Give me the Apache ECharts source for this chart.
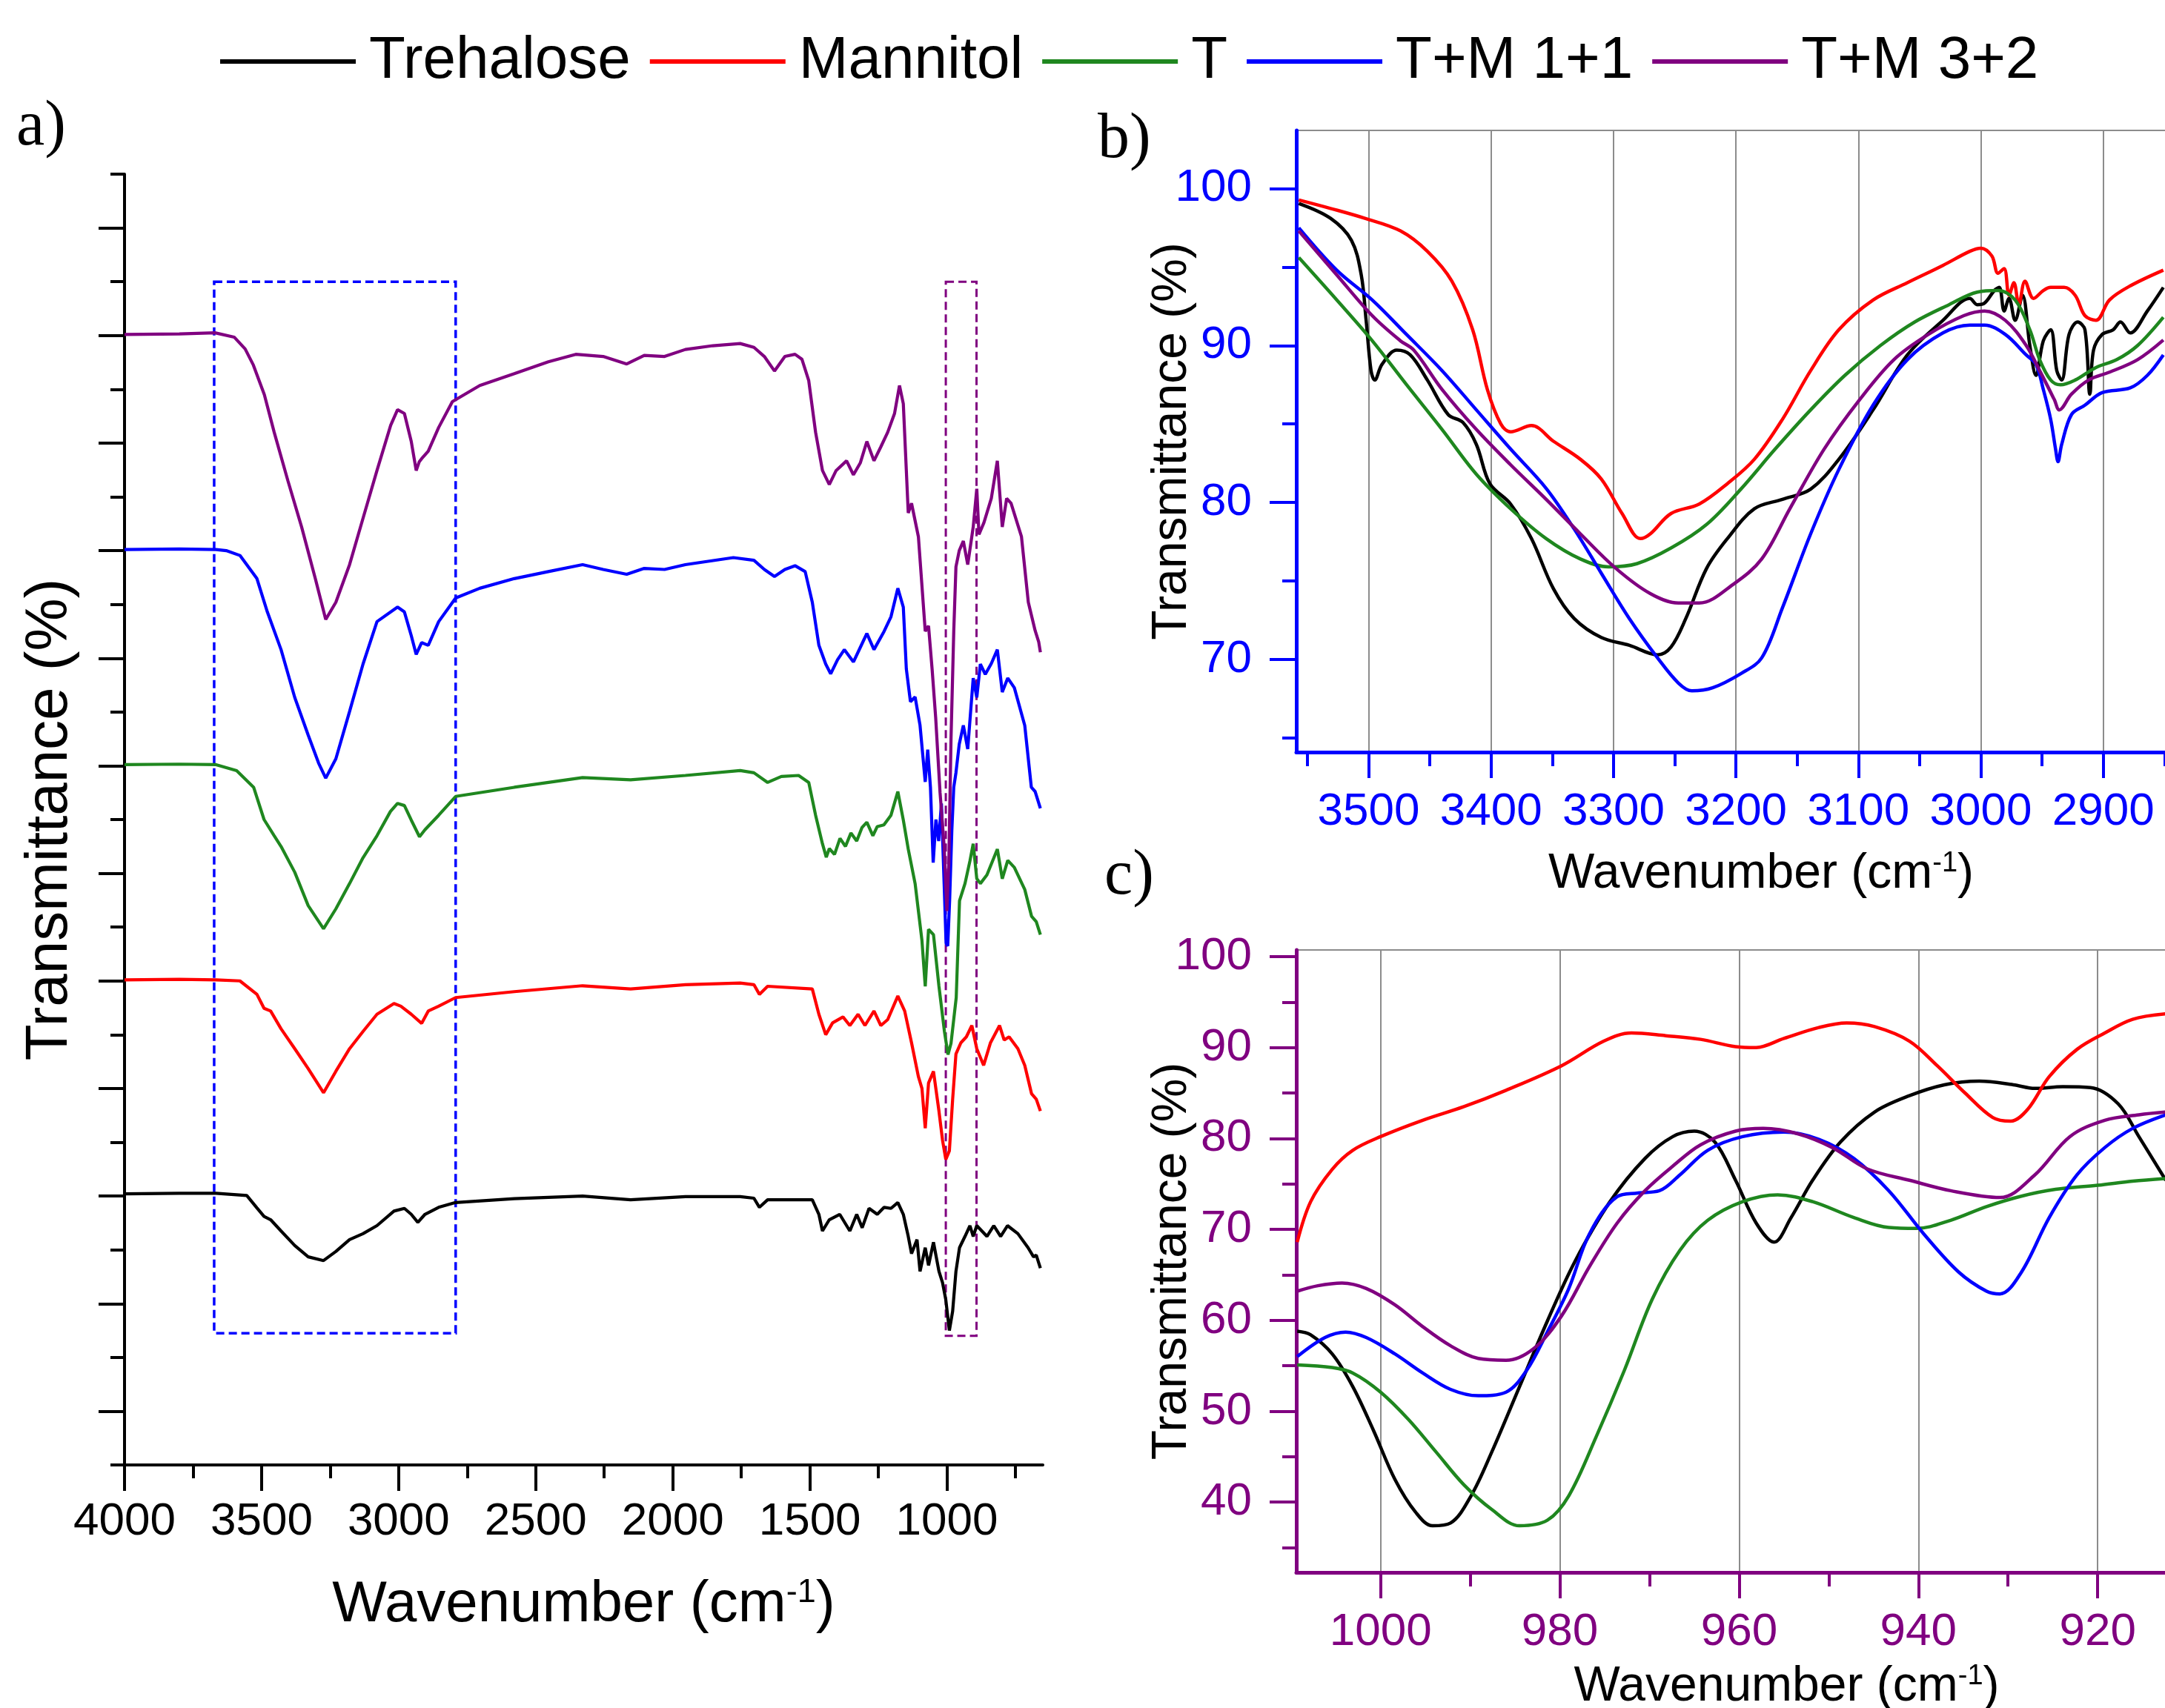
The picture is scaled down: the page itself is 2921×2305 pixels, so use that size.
<!DOCTYPE html>
<html><head><meta charset="utf-8">
<script src="https://cdn.jsdelivr.net/npm/echarts@6/dist/echarts.min.js"></script>
<style>html,body{margin:0;padding:0;background:#fff}#c{width:2921px;height:2305px}</style>
</head><body><div id="c"></div>
<script>
// ---------- names & tick values ----------
const seriesNames = ['Trehalose','Mannitol','T','T+M 1+1','T+M 3+2'];
const seriesColors = ['#000000','#ff0000','#1f871f','#0000ff','#800080'];

const a_x_major = [4000,3500,3000,2500,2000,1500,1000];
const a_x_minor = [3750,3250,2750,2250,1750,1250,750];
const a_y_short = [0,2,4,6,8,10,12,14,16,18,20,22,24];
const a_y_long  = [1,3,5,7,9,11,13,15,17,19,21,23];
const b_x_major = [3500,3400,3300,3200,3100,3000,2900,2800];
const b_x_minor = [3550,3450,3350,3250,3150,3050,2950,2850];
const b_y_major = [70,80,90,100];
const b_y_minor = [65,75,85,95];
const c_x_major = [1000,980,960,940,920,900];
const c_x_minor = [990,970,950,930,910];
const c_y_major = [40,50,60,70,80,90,100];
const c_y_minor = [35,45,55,65,75,85,95];

// dashed boxes in panel a: [x1, y1, x2, y2]
const boxBlue   = [3673, 22, 2792, 2.45];
const boxPurple = [1004, 22, 892, 2.4];

// ---------- panel a (offset spectra, arbitrary units) ----------
const a_trehalose = [[4000,5.04],[3800,5.05],[3666,5.05],[3554,5.01],[3517,4.78],[3491,4.62],[3467,4.56],[3429,4.35],[3379,4.08],[3330,3.87],[3274,3.8],[3229,3.97],[3179,4.19],[3130,4.30],[3079,4.45],[3017,4.72],[2979,4.77],[2954,4.66],[2930,4.51],[2904,4.66],[2854,4.79],[2792,4.88],[2578,4.95],[2329,5.0],[2154,4.93],[1954,4.99],[1754,4.99],[1704,4.96],[1684,4.79],[1654,4.93],[1491,4.93],[1467,4.66],[1454,4.35],[1429,4.56],[1391,4.66],[1354,4.35],[1329,4.66],[1309,4.41],[1284,4.77],[1254,4.66],[1229,4.79],[1204,4.77],[1179,4.88],[1159,4.66],[1141,4.25],[1129,3.93],[1109,4.19],[1098,3.60],[1079,4.04],[1067,3.71],[1049,4.14],[1029,3.6],[1016,3.39],[1004,3.07],[991,2.5],[979,2.86],[967,3.6],[954,4.04],[934,4.25],[916,4.45],[904,4.25],[891,4.45],[854,4.25],[829,4.45],[804,4.25],[779,4.45],[741,4.3],[704,4.04],[684,3.87],[674,3.9],[659,3.66]];
const a_mannitol = [[4000,9.02],[3800,9.03],[3666,9.02],[3579,9.0],[3517,8.75],[3491,8.49],[3467,8.44],[3429,8.11],[3379,7.74],[3330,7.37],[3274,6.92],[3229,7.32],[3179,7.74],[3130,8.06],[3079,8.38],[3017,8.58],[2992,8.53],[2954,8.38],[2916,8.21],[2892,8.44],[2854,8.53],[2792,8.69],[2578,8.8],[2329,8.91],[2154,8.85],[1954,8.93],[1754,8.96],[1704,8.93],[1684,8.75],[1654,8.9],[1491,8.85],[1467,8.38],[1442,8.0],[1417,8.22],[1379,8.33],[1354,8.17],[1324,8.38],[1299,8.17],[1266,8.44],[1241,8.17],[1216,8.28],[1179,8.72],[1154,8.44],[1129,7.85],[1104,7.22],[1091,7.0],[1079,6.26],[1067,7.1],[1049,7.32],[1029,6.58],[1016,6.04],[1004,5.68],[991,5.84],[979,6.8],[967,7.64],[949,7.85],[929,7.96],[909,8.17],[891,7.74],[866,7.43],[841,7.85],[808,8.17],[791,7.9],[773,7.96],[741,7.74],[716,7.43],[691,6.9],[674,6.8],[659,6.58]];
const a_t = [[4000,13.02],[3800,13.03],[3666,13.02],[3591,12.91],[3529,12.6],[3491,12.0],[3454,11.7],[3429,11.5],[3379,11.02],[3330,10.4],[3274,9.97],[3229,10.34],[3179,10.81],[3130,11.29],[3079,11.7],[3030,12.15],[3004,12.3],[2979,12.26],[2954,11.99],[2924,11.68],[2904,11.81],[2854,12.08],[2792,12.43],[2578,12.6],[2329,12.78],[2154,12.74],[1954,12.82],[1754,12.91],[1704,12.87],[1654,12.69],[1604,12.8],[1541,12.82],[1504,12.69],[1479,12.08],[1454,11.55],[1440,11.3],[1429,11.46],[1410,11.35],[1390,11.65],[1370,11.5],[1350,11.75],[1329,11.6],[1310,11.85],[1292,11.95],[1270,11.7],[1254,11.87],[1230,11.9],[1204,12.08],[1179,12.52],[1159,11.99],[1141,11.45],[1116,10.81],[1091,9.75],[1079,8.90],[1067,9.96],[1049,9.86],[1029,8.90],[1009,8.06],[996,7.63],[985,7.84],[966,8.69],[954,10.49],[934,10.81],[916,11.23],[904,11.55],[891,10.9],[878,10.81],[854,10.97],[816,11.45],[798,10.9],[778,11.24],[754,11.11],[716,10.7],[691,10.2],[674,10.1],[659,9.86]];
const a_tm11 = [[4000,17.02],[3800,17.03],[3666,17.02],[3629,17.0],[3579,16.91],[3517,16.48],[3479,15.86],[3429,15.16],[3379,14.27],[3330,13.57],[3292,13.05],[3266,12.77],[3229,13.13],[3179,14.01],[3130,14.89],[3079,15.68],[3004,15.95],[2979,15.86],[2954,15.42],[2936,15.07],[2916,15.29],[2892,15.24],[2854,15.68],[2792,16.12],[2704,16.3],[2578,16.48],[2454,16.61],[2329,16.74],[2254,16.65],[2168,16.56],[2104,16.67],[2030,16.65],[1954,16.74],[1779,16.87],[1704,16.82],[1666,16.65],[1629,16.52],[1591,16.65],[1554,16.72],[1517,16.61],[1491,16.04],[1467,15.24],[1442,14.89],[1424,14.71],[1399,14.97],[1374,15.16],[1341,14.93],[1316,15.2],[1292,15.46],[1266,15.16],[1229,15.5],[1204,15.77],[1179,16.3],[1159,15.95],[1148,14.8],[1133,14.19],[1116,14.28],[1098,13.75],[1079,12.70],[1070,13.3],[1060,12.6],[1050,11.2],[1040,12.0],[1030,11.6],[1020,12.3],[1010,10.8],[1003,9.7],[997,9.65],[990,10.5],[982,11.8],[975,12.6],[967,12.87],[955,13.4],[940,13.75],[924,13.31],[904,14.63],[891,14.27],[878,14.89],[860,14.7],[838,14.9],[816,15.16],[798,14.37],[778,14.63],[754,14.45],[716,13.75],[692,12.6],[678,12.52],[659,12.21]];
const a_tm32 = [[4000,21.02],[3800,21.03],[3670,21.05],[3600,20.97],[3560,20.75],[3530,20.45],[3490,19.9],[3454,19.2],[3404,18.3],[3354,17.44],[3304,16.48],[3266,15.72],[3229,16.04],[3179,16.74],[3130,17.6],[3079,18.49],[3029,19.33],[3004,19.62],[2979,19.55],[2954,19.03],[2936,18.49],[2925,18.65],[2916,18.71],[2892,18.85],[2854,19.29],[2804,19.77],[2704,20.07],[2578,20.29],[2454,20.51],[2354,20.65],[2254,20.61],[2168,20.47],[2104,20.63],[2030,20.61],[1954,20.74],[1854,20.81],[1754,20.85],[1704,20.78],[1666,20.61],[1629,20.34],[1591,20.61],[1554,20.65],[1529,20.56],[1504,20.16],[1479,19.2],[1454,18.49],[1429,18.23],[1404,18.49],[1366,18.67],[1341,18.41],[1316,18.63],[1292,19.03],[1266,18.67],[1241,18.93],[1216,19.2],[1191,19.55],[1173,20.07],[1159,19.73],[1148,18.49],[1141,17.7],[1129,17.88],[1104,17.26],[1079,15.5],[1067,15.6],[1054,14.8],[1041,13.9],[1025,12.5],[1010,11.5],[1000,10.3],[993,11.2],[985,13.5],[975,15.5],[967,16.7],[955,17.0],[940,17.18],[924,16.74],[904,17.44],[891,18.15],[883,17.3],[865,17.52],[838,17.97],[816,18.67],[798,17.44],[782,17.97],[766,17.88],[728,17.26],[703,16.04],[678,15.51],[665,15.3],[659,15.11]];

// ---------- panel b (3560-2850 cm-1, %T) ----------
const b_trehalose = [[3557,99.05],[3531,98.1],[3514,96.7],[3506,94.5],[3502,91.6],[3498,88.4],[3495,87.8],[3489,88.8],[3477,89.7],[3466,89.4],[3452,87.8],[3435,85.6],[3423,85.1],[3412,83.7],[3401,81.2],[3384,79.9],[3367,77.7],[3349,74.5],[3332,72.6],[3310,71.4],[3287,70.9],[3264,70.3],[3253,70.8],[3241,72.6],[3224,75.8],[3207,77.7],[3185,79.6],[3162,80.2],[3139,80.85],[3116,82.75],[3088,85.9],[3060,89.4],[3031,91.6],[3009,93.0],[3003,92.6],[2997,92.7],[2989,93.5],[2985,93.7],[2981,92.2],[2977,93.0],[2972,91.6],[2966,93.2],[2960,90.0],[2955,88.1],[2949,90.3],[2943,91.0],[2938,88.4],[2934,87.8],[2928,90.7],[2921,91.5],[2915,91.0],[2911,86.9],[2908,89.7],[2901,90.7],[2892,91.0],[2886,91.5],[2878,90.8],[2864,92.2],[2851,93.7]];
const b_mannitol = [[3557,99.27],[3531,98.73],[3503,98.1],[3474,97.3],[3452,96.0],[3432,94.1],[3415,91.0],[3403,87.2],[3392,85.0],[3384,84.5],[3367,84.9],[3349,83.9],[3327,82.75],[3310,81.5],[3293,79.3],[3278,77.7],[3270,78.0],[3253,79.3],[3230,79.9],[3207,81.2],[3185,82.75],[3162,85.3],[3139,88.4],[3116,91.0],[3088,92.9],[3060,94.0],[3031,95.1],[3009,96.0],[3000,96.2],[2991,95.7],[2986,94.6],[2981,94.9],[2977,93.2],[2973,94.0],[2969,92.6],[2964,94.1],[2957,93.0],[2949,93.5],[2943,93.7],[2932,93.7],[2923,93.2],[2915,91.9],[2906,91.6],[2895,92.9],[2878,93.8],[2851,94.8]];
const b_t = [[3557,95.6],[3526,92.9],[3497,90.3],[3469,87.5],[3440,84.65],[3412,81.8],[3384,79.6],[3355,77.7],[3327,76.4],[3304,75.9],[3281,76.1],[3253,77.1],[3224,78.6],[3196,80.85],[3168,83.4],[3139,85.9],[3111,88.1],[3082,90.0],[3054,91.5],[3026,92.6],[3003,93.4],[2986,93.5],[2972,92.9],[2960,91.0],[2952,89.1],[2943,87.8],[2935,87.5],[2923,87.8],[2906,88.6],[2889,89.1],[2872,90.0],[2851,91.8]];
const b_tm11 = [[3557,97.5],[3526,94.8],[3497,92.9],[3469,90.7],[3440,88.4],[3412,85.9],[3384,83.4],[3355,80.9],[3332,78.3],[3310,75.5],[3287,72.6],[3264,70.1],[3247,68.5],[3236,68.0],[3219,68.2],[3196,69.1],[3179,70.1],[3162,73.3],[3139,78.0],[3116,82.1],[3088,86.2],[3060,89.1],[3031,90.8],[3009,91.3],[2997,91.3],[2980,90.7],[2963,89.4],[2955,88.8],[2949,87.2],[2943,85.3],[2939,83.4],[2937,82.6],[2934,83.7],[2926,85.6],[2915,86.2],[2901,87.0],[2878,87.3],[2864,88.1],[2851,89.4]];
const b_tm32 = [[3557,97.3],[3526,94.5],[3497,91.9],[3474,90.3],[3463,89.7],[3440,87.2],[3412,84.65],[3384,82.4],[3355,80.2],[3327,78.0],[3298,75.8],[3270,74.2],[3247,73.6],[3230,73.6],[3202,74.8],[3179,76.4],[3156,79.6],[3128,83.4],[3099,86.55],[3071,89.1],[3043,90.7],[3014,91.9],[2997,92.2],[2980,91.6],[2963,90.0],[2952,88.4],[2940,86.55],[2936,85.9],[2926,86.9],[2912,87.8],[2895,88.3],[2872,89.1],[2851,90.35]];

// ---------- panel c (1010-912 cm-1, %T) ----------
const c_trehalose = [[1009.3,58.8],[1007.8,58.4],[1005.4,56.3],[1003.1,52.7],[1000.8,47.9],[998.4,42.5],[996.1,38.9],[994.2,37.4],[992.2,37.7],[989.9,40.7],[987.6,45.5],[984.5,52.7],[981.4,59.9],[978.3,66.5],[974.4,73.05],[970.5,77.8],[967.4,80.2],[965.0,80.8],[962.7,79.6],[960.4,75.4],[958.1,70.7],[956.1,68.6],[954.2,71.3],[951.8,75.4],[948.7,79.6],[944.9,82.9],[941.0,84.7],[937.1,85.9],[933.2,86.3],[929.4,85.9],[927.0,85.5],[923.9,85.7],[920.8,85.6],[917.7,83.8],[915.4,80.2],[912.4,75.4]];
const c_mannitol = [[1009.3,68.6],[1007.8,73.05],[1005.4,76.6],[1003.1,78.7],[1000,80.2],[995.3,82.0],[990.7,83.5],[986.0,85.3],[979.8,88.0],[975.1,90.7],[972.0,91.6],[968.2,91.3],[964.3,90.9],[960.4,90.1],[958.1,90.0],[955.0,91.0],[951.1,92.2],[948.0,92.7],[944.9,92.3],[941.0,90.7],[937.9,88.0],[934.8,85.0],[931.7,82.3],[929.7,81.9],[927.8,83.2],[925.4,86.8],[922.3,89.8],[919.2,91.6],[916.1,93.1],[912.4,93.7]];
const c_t = [[1009.3,55.1],[1005.4,54.8],[1003.1,54.2],[1000,52.1],[996.9,49.1],[993.8,45.5],[990.7,41.9],[987.6,39.2],[984.5,37.4],[981.4,38.0],[979.0,40.7],[975.9,47.3],[972.8,54.5],[969.7,62.3],[966.6,67.7],[963.5,71.0],[959.6,73.05],[955.7,73.8],[951.8,73.05],[947.2,71.3],[943.3,70.2],[940.2,70.1],[936.4,71.0],[932.4,72.5],[928.5,73.65],[924.7,74.4],[920.0,74.85],[916.1,75.3],[912.4,75.6]];
const c_tm11 = [[1009.3,56.0],[1006.2,58.1],[1003.9,58.7],[1001.6,58.1],[998.4,56.3],[995.3,54.2],[992.2,52.4],[989.1,51.7],[986.0,52.1],[983.7,54.5],[981.4,58.7],[979.0,63.5],[976.7,69.5],[973.6,73.6],[971.3,74.0],[968.9,74.25],[966.6,76.0],[963.5,78.7],[959.6,80.2],[955.0,80.7],[951.1,79.9],[947.2,77.8],[943.3,74.25],[939.4,69.5],[935.5,65.3],[932.4,63.2],[930.9,62.9],[928.5,65.3],[925.4,71.3],[922.3,76.0],[919.2,79.0],[916.1,81.1],[912.4,82.6]];
const c_tm32 = [[1009.3,63.2],[1007.0,63.8],[1004.3,64.1],[1001.6,63.5],[998.4,61.7],[995.3,59.3],[992.2,57.2],[989.1,55.8],[986.0,55.6],[982.9,56.9],[979.8,60.5],[976.7,65.9],[973.6,70.7],[970.5,74.25],[967.4,76.95],[964.3,79.3],[960.4,80.8],[957.3,81.1],[953.4,80.5],[949.6,79.0],[945.7,76.65],[941.0,75.4],[936.4,74.25],[930.9,73.5],[927.0,76.0],[923.1,80.2],[919.2,82.0],[915.4,82.6],[912.4,82.9]];

const panelA = [a_trehalose, a_mannitol, a_t, a_tm11, a_tm32];
const panelB = [b_trehalose, b_mannitol, b_t, b_tm11, b_tm32];
const panelC = [c_trehalose, c_mannitol, c_t, c_tm11, c_tm32];

// ---------- layout ----------
const FONT = '"Liberation Sans", Arial, sans-serif';
const BLUE = '#0000ff', PURPLE = '#800080', GRAY = '#8c8c8c';
const plain = (v) => String(v);

function tickAxis(o) {
  return Object.assign({
    type: 'value', scale: false, nameMoveOverlap: false,
    axisLine: { show: false, onZero: false },
    axisTick: { show: false },
    axisLabel: { show: false },
    splitLine: { show: false },
    minorTick: { show: false }, minorSplitLine: { show: false }
  }, o);
}
const rich = (fs) => ({ s: { fontSize: Math.round(fs * 0.58), fontFamily: FONT, color: '#000', verticalAlign: 'top' } });

const xAxes = [
  // panel a
  tickAxis({ gridIndex: 0, position: 'bottom', min: 650, max: 4000, inverse: true,
    axisLine: { show: true, onZero: false, lineStyle: { color: '#000', width: 4 } },
    axisTick: { show: true, length: 35, customValues: a_x_major, lineStyle: { color: '#000', width: 4 } },
    axisLabel: { show: true, customValues: a_x_major, formatter: plain, fontSize: 62, fontFamily: FONT, color: '#000', margin: 46 },
    name: 'Wavenumber (cm{s|-1})', nameLocation: 'middle', nameGap: 150,
    nameTextStyle: { fontSize: 78, fontFamily: FONT, color: '#000', rich: rich(78) } }),
  tickAxis({ gridIndex: 0, position: 'bottom', min: 650, max: 4000, inverse: true,
    axisTick: { show: true, length: 18, customValues: a_x_minor, lineStyle: { color: '#000', width: 4 } } }),
  // panel b
  tickAxis({ gridIndex: 1, position: 'bottom', min: 2800, max: 3559, inverse: true, interval: 100,
    axisLine: { show: true, onZero: false, lineStyle: { color: BLUE, width: 5 } },
    axisTick: { show: true, length: 35, customValues: b_x_major, lineStyle: { color: BLUE, width: 4 } },
    axisLabel: { show: true, customValues: b_x_major, formatter: plain, fontSize: 62, fontFamily: FONT, color: BLUE, margin: 50 },
    splitLine: { show: true, lineStyle: { color: GRAY, width: 2 } },
    name: 'Wavenumber (cm{s|-1})', nameLocation: 'middle', nameGap: 132,
    nameTextStyle: { fontSize: 66, fontFamily: FONT, color: '#000', rich: rich(66) } }),
  tickAxis({ gridIndex: 1, position: 'bottom', min: 2800, max: 3559, inverse: true,
    axisTick: { show: true, length: 19, customValues: b_x_minor, lineStyle: { color: BLUE, width: 4 } } }),
  // panel c
  tickAxis({ gridIndex: 2, position: 'bottom', min: 900, max: 1009.4, inverse: true, interval: 20,
    axisLine: { show: true, onZero: false, lineStyle: { color: PURPLE, width: 5 } },
    axisTick: { show: true, length: 35, customValues: c_x_major, lineStyle: { color: PURPLE, width: 4 } },
    axisLabel: { show: true, customValues: c_x_major, formatter: plain, fontSize: 62, fontFamily: FONT, color: PURPLE, margin: 50 },
    splitLine: { show: true, lineStyle: { color: GRAY, width: 2 } },
    name: 'Wavenumber (cm{s|-1})', nameLocation: 'middle', nameGap: 122,
    nameTextStyle: { fontSize: 66, fontFamily: FONT, color: '#000', rich: rich(66) } }),
  tickAxis({ gridIndex: 2, position: 'bottom', min: 900, max: 1009.4, inverse: true,
    axisTick: { show: true, length: 19, customValues: c_x_minor, lineStyle: { color: PURPLE, width: 4 } } })
];

const yAxes = [
  // panel a
  tickAxis({ gridIndex: 0, position: 'left', min: 0, max: 24, interval: 2,
    axisLine: { show: true, onZero: false, lineStyle: { color: '#000', width: 4 } },
    axisTick: { show: true, length: 19, customValues: a_y_short, lineStyle: { color: '#000', width: 4 } },
    name: 'Transmittance (%)', nameLocation: 'middle', nameGap: 60,
    nameTextStyle: { fontSize: 80, fontFamily: FONT, color: '#000' } }),
  tickAxis({ gridIndex: 0, position: 'left', min: 0, max: 24,
    axisTick: { show: true, length: 35, customValues: a_y_long, lineStyle: { color: '#000', width: 4 } } }),
  // panel b
  tickAxis({ gridIndex: 1, position: 'left', min: 64.1, max: 103.7,
    axisLine: { show: true, onZero: false, lineStyle: { color: BLUE, width: 5 } },
    axisTick: { show: true, length: 36, customValues: b_y_major, lineStyle: { color: BLUE, width: 4 } },
    axisLabel: { show: true, customValues: b_y_major, formatter: plain, fontSize: 62, fontFamily: FONT, color: BLUE, margin: 60 },
    name: 'Transmittance (%)', nameLocation: 'middle', nameGap: 134,
    nameTextStyle: { fontSize: 66, fontFamily: FONT, color: '#000' } }),
  tickAxis({ gridIndex: 1, position: 'left', min: 64.1, max: 103.7,
    axisTick: { show: true, length: 19, customValues: b_y_minor, lineStyle: { color: BLUE, width: 4 } } }),
  // panel c
  tickAxis({ gridIndex: 2, position: 'left', min: 32.27, max: 100.73,
    axisLine: { show: true, onZero: false, lineStyle: { color: PURPLE, width: 5 } },
    axisTick: { show: true, length: 36, customValues: c_y_major, lineStyle: { color: PURPLE, width: 4 } },
    axisLabel: { show: true, customValues: c_y_major, formatter: plain, fontSize: 62, fontFamily: FONT, color: PURPLE, margin: 60 },
    name: 'Transmittance (%)', nameLocation: 'middle', nameGap: 134,
    nameTextStyle: { fontSize: 66, fontFamily: FONT, color: '#000' } }),
  tickAxis({ gridIndex: 2, position: 'left', min: 32.27, max: 100.73,
    axisTick: { show: true, length: 19, customValues: c_y_minor, lineStyle: { color: PURPLE, width: 4 } } })
];

const series = [];
function addPanel(datas, xi, yi, smooth, width) {
  datas.forEach((d, i) => {
    series.push({
      type: 'line', name: seriesNames[i], xAxisIndex: xi, yAxisIndex: yi, data: d,
      symbol: 'none', showSymbol: false, smooth: smooth, clip: true,
      lineStyle: { color: seriesColors[i], width: width }, itemStyle: { color: seriesColors[i] },
      emphasis: { disabled: true }, silent: true, z: 3
    });
  });
}
addPanel(panelA, 0, 0, false, 4.2);
addPanel(panelB, 2, 2, 0.35, 4.5);
addPanel(panelC, 4, 4, 0.35, 4.5);

// dashed selection boxes in panel a
series[0].markArea = {
  silent: true,
  data: [
    [{ coord: [boxBlue[0], boxBlue[1]], itemStyle: { color: 'rgba(0,0,0,0)', borderColor: BLUE, borderWidth: 3.5, borderType: [11, 6] } },
     { coord: [boxBlue[2], boxBlue[3]] }],
    [{ coord: [boxPurple[0], boxPurple[1]], itemStyle: { color: 'rgba(0,0,0,0)', borderColor: PURPLE, borderWidth: 3, borderType: [11, 6] } },
     { coord: [boxPurple[2], boxPurple[3]] }]
  ]
};

const option = {
  animation: false,
  backgroundColor: '#ffffff',
  textStyle: { fontFamily: FONT },
  legend: {
    data: seriesNames, left: 292, top: 38, icon: 'rect', itemWidth: 183, itemHeight: 6, itemGap: 26,
    selectedMode: false,
    textStyle: { fontSize: 80, fontFamily: FONT, color: '#000', padding: [0, 0, 0, 13] }
  },
  grid: [
    { left: 168, top: 235, width: 1239, height: 1742, outerBoundsMode: 'none', containLabel: false },
    { left: 1749, top: 176, width: 1254, height: 839, outerBoundsMode: 'none', containLabel: false,
      show: true, borderColor: GRAY, borderWidth: 2, backgroundColor: 'transparent' },
    { left: 1749, top: 1282, width: 1323, height: 840, outerBoundsMode: 'none', containLabel: false,
      show: true, borderColor: GRAY, borderWidth: 2, backgroundColor: 'transparent' }
  ],
  xAxis: xAxes,
  yAxis: yAxes,
  series: series,
  graphic: [
    { type: 'text', x: 22, y: 172, style: { text: 'a)', fontSize: 86, fontFamily: '"Liberation Serif", "Times New Roman", serif', fill: '#000', verticalAlign: 'middle' } },
    { type: 'text', x: 1481, y: 189, style: { text: 'b)', fontSize: 86, fontFamily: '"Liberation Serif", "Times New Roman", serif', fill: '#000', verticalAlign: 'middle' } },
    { type: 'text', x: 1490, y: 1183, style: { text: 'c)', fontSize: 86, fontFamily: '"Liberation Serif", "Times New Roman", serif', fill: '#000', verticalAlign: 'middle' } }
  ]
};

const chart = echarts.init(document.getElementById('c'), null, { renderer: 'canvas', width: 2921, height: 2305 });
chart.setOption(option);
</script>
</body></html>
